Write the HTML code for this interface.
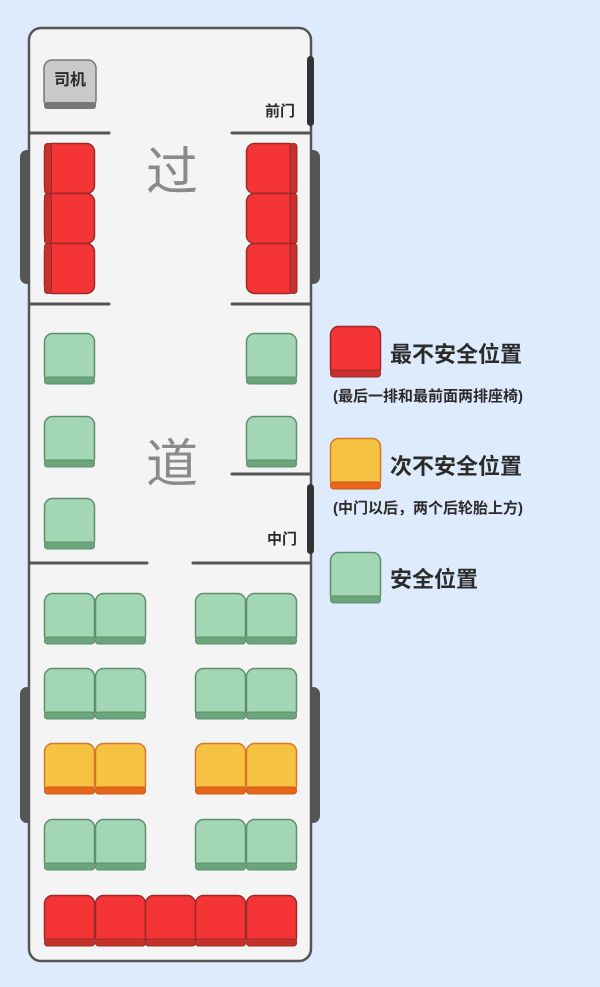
<!DOCTYPE html>
<html><head><meta charset="utf-8"><style>
html,body{margin:0;padding:0;background:#deebfc;}
svg{display:block}
text{font-family:"Liberation Sans","Noto Sans CJK SC",sans-serif;font-weight:bold;fill:#2b2b2b}
</style></head><body>
<svg width="600" height="987" viewBox="0 0 600 987" xmlns="http://www.w3.org/2000/svg">
<defs>
<g id="gs"><rect x="0.5" y="0.5" width="50" height="50" rx="8" fill="#a3d6b5" stroke="#5e8e6c" stroke-width="1.5"/><rect x="0.5" y="44" width="50" height="7" rx="3" fill="#6aa57c" stroke="#5e8e6c" stroke-width="1"/></g>
<g id="ys"><rect x="0.5" y="0.5" width="50" height="50" rx="8" fill="#f5c242" stroke="#d6782a" stroke-width="1.5"/><rect x="0.5" y="44" width="50" height="7" rx="3" fill="#e8651a" stroke="#c85a1a" stroke-width="1"/></g>
<g id="rs"><rect x="0.5" y="0.5" width="50" height="50" rx="8" fill="#f53535" stroke="#9a2a2a" stroke-width="1.5"/><rect x="0.5" y="44" width="50" height="7" rx="3" fill="#c8302b" stroke="#9a2a2a" stroke-width="1"/></g>
<g id="rl"><rect x="0.5" y="0.5" width="50" height="50" rx="8" fill="#f53535" stroke="#9a2a2a" stroke-width="1.5"/><rect x="0.5" y="0.5" width="7" height="50" rx="3" fill="#c8302b" stroke="#9a2a2a" stroke-width="1"/></g>
<g id="rr"><rect x="0.5" y="0.5" width="50" height="50" rx="8" fill="#f53535" stroke="#9a2a2a" stroke-width="1.5"/><rect x="44" y="0.5" width="7" height="50" rx="3" fill="#c8302b" stroke="#9a2a2a" stroke-width="1"/></g>
</defs>
<!-- wheels -->
<rect x="20" y="150" width="14" height="134" rx="7" fill="#555"/>
<rect x="306" y="150" width="14" height="134" rx="7" fill="#555"/>
<rect x="20" y="687" width="14" height="136" rx="7" fill="#555"/>
<rect x="306" y="687" width="14" height="136" rx="7" fill="#555"/>
<!-- body -->
<rect x="29" y="28" width="282" height="933" rx="12" fill="#f4f4f4" stroke="#555" stroke-width="2.5"/>
<!-- doors -->
<rect x="307" y="56" width="7" height="70" rx="3.5" fill="#333"/>
<rect x="307" y="484" width="7" height="70" rx="3.5" fill="#333"/>
<!-- partition lines -->
<g stroke="#555" stroke-width="3" stroke-linecap="round">
<line x1="30" y1="133" x2="109" y2="133"/><line x1="232" y1="133" x2="310" y2="133"/>
<line x1="30" y1="304" x2="109" y2="304"/><line x1="232" y1="304" x2="310" y2="304"/>
<line x1="232" y1="474" x2="310" y2="474"/>
<line x1="30" y1="563" x2="147" y2="563"/><line x1="193" y1="563" x2="310" y2="563"/>
</g>
<!-- driver -->
<rect x="44" y="60" width="52" height="48" rx="8" fill="#c9c9c9" stroke="#777" stroke-width="1.5"/>
<rect x="44" y="102" width="52" height="7" rx="3" fill="#777"/>
<text x="70" y="85" font-size="16" text-anchor="middle">司机</text>
<text x="280" y="116" font-size="15" text-anchor="middle">前门</text>
<text x="282" y="544" font-size="15" text-anchor="middle">中门</text>
<text x="172" y="190" font-size="52" text-anchor="middle" style="font-weight:normal;fill:#8a8a8a">过</text>
<text x="172" y="482" font-size="52" text-anchor="middle" style="font-weight:normal;fill:#8a8a8a">道</text>
<!-- front red -->
<use href="#rl" x="44" y="143"/><use href="#rl" x="44" y="193"/><use href="#rl" x="44" y="243"/>
<use href="#rr" x="246" y="143"/><use href="#rr" x="246" y="193"/><use href="#rr" x="246" y="243"/>
<!-- singles -->
<use href="#gs" x="44" y="333"/><use href="#gs" x="44" y="416"/><use href="#gs" x="44" y="498"/>
<use href="#gs" x="246" y="333"/><use href="#gs" x="246" y="416"/>
<!-- rear rows -->
<use href="#gs" x="44" y="593"/><use href="#gs" x="95" y="593"/><use href="#gs" x="195" y="593"/><use href="#gs" x="246" y="593"/>
<use href="#gs" x="44" y="668"/><use href="#gs" x="95" y="668"/><use href="#gs" x="195" y="668"/><use href="#gs" x="246" y="668"/>
<use href="#ys" x="44" y="743"/><use href="#ys" x="95" y="743"/><use href="#ys" x="195" y="743"/><use href="#ys" x="246" y="743"/>
<use href="#gs" x="44" y="819"/><use href="#gs" x="95" y="819"/><use href="#gs" x="195" y="819"/><use href="#gs" x="246" y="819"/>
<use href="#rs" x="44" y="895"/><use href="#rs" x="95" y="895"/><use href="#rs" x="145" y="895"/><use href="#rs" x="195" y="895"/><use href="#rs" x="246" y="895"/>
<!-- legend -->
<use href="#rs" x="330" y="326"/>
<text x="390" y="362" font-size="22">最不安全位置</text>
<text x="333" y="401" font-size="15">(最后一排和最前面两排座椅)</text>
<use href="#ys" x="330" y="438"/>
<text x="390" y="474" font-size="22">次不安全位置</text>
<text x="333" y="513" font-size="15">(中门以后，两个后轮胎上方)</text>
<use href="#gs" x="330" y="552"/>
<text x="390" y="587" font-size="22">安全位置</text>
</svg>
</body></html>
